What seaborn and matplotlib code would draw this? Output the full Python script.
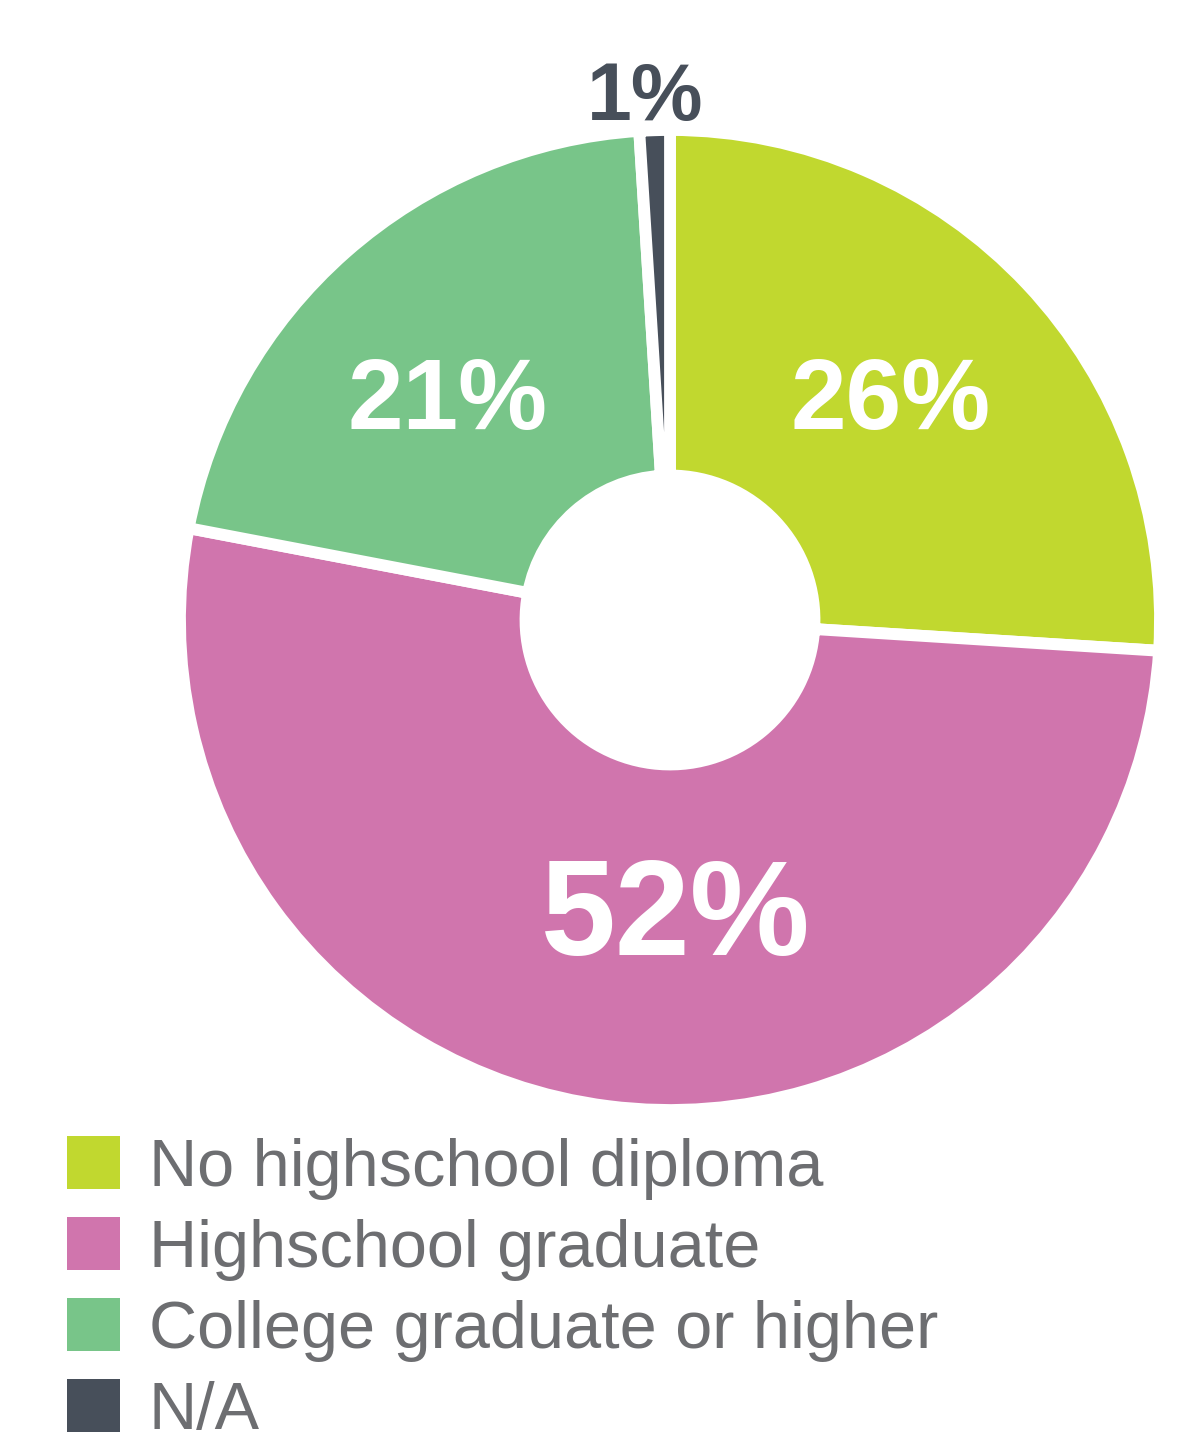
import matplotlib
matplotlib.use("Agg")
import matplotlib.pyplot as plt
import seaborn as sns
from matplotlib.patches import Patch

categories = ["No highschool diploma", "Highschool graduate", "College graduate or higher", "N/A"]
values = [26, 52, 21, 1]
colors = ["#C1D82F", "#D075AD", "#78C589", "#474F5A"]
label_texts = ["26%", "52%", "21%", "1%"]

sns.set_theme(style="white")
plt.rcParams['font.family'] = ['Liberation Sans', 'DejaVu Sans']

W, H = 1188, 1440
fig = plt.figure(figsize=(W / 100, H / 100), dpi=100)
cx, cy, R = 670, 620, 490
ax = fig.add_axes([(cx - R) / W, (H - cy - R) / H, 2 * R / W, 2 * R / H])

inner = 144.5 / 490
wedges, _ = ax.pie(values, colors=colors, startangle=90, counterclock=False,
                   radius=1.0,
                   wedgeprops=dict(width=1.0 - inner, edgecolor="white", linewidth=8.5))
ax.set_xlim(-1, 1)
ax.set_ylim(-1, 1)
ax.set_aspect("equal")
ax.axis("off")

# label positions (data units, relative to radius 1)
label_pos = [(0.45, 0.443), (0.012, -0.612), (-0.454, 0.443), (-0.05, 1.064)]
label_sizes = [72, 97, 72, 58]
label_colors = ["white", "white", "white", "#474F5A"]
for txt, (x, y), s, c in zip(label_texts, label_pos, label_sizes, label_colors):
    ax.text(x, y, txt, ha="center", va="center", fontsize=s, fontweight="bold",
            color=c, clip_on=False)

handles = [Patch(facecolor=c, edgecolor="none") for c in colors]
leg = fig.legend(handles, categories, loc="upper left",
                 bbox_to_anchor=(68 / W - 0.001, 1 - 1136 / H),
                 frameon=False, fontsize=48, handlelength=0.8, handleheight=0.85,
                 handletextpad=0.43, labelspacing=0.26, borderpad=0, borderaxespad=0)
for t in leg.get_texts():
    t.set_color("#6D6E71")

fig.savefig("out.png", dpi=100, facecolor="white")
